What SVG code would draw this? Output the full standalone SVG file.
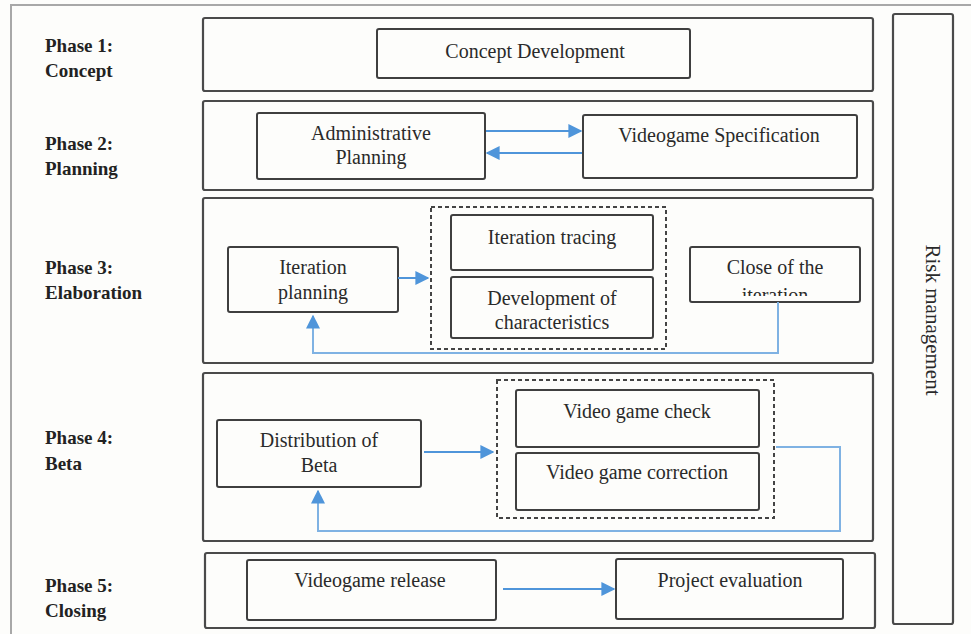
<svg xmlns="http://www.w3.org/2000/svg" width="971" height="634" viewBox="0 0 971 634">
<defs>
<style>
.bg{fill:#fdfdfb}
.frame{fill:none;stroke:#a8a8a8;stroke-width:2}
.phase{fill:#fdfdfb;stroke:#4a4a4a;stroke-width:2.2}
.box{fill:#fdfdfb;stroke:#3f3f3f;stroke-width:2}
.dash{fill:none;stroke:#444;stroke-width:2;stroke-dasharray:4 3}
.lbl{font-family:"Liberation Serif","Times New Roman",serif;font-weight:bold;font-size:19px;fill:#222}
.t{font-family:"Liberation Serif","Times New Roman",serif;font-size:20px;fill:#2a2a2a;text-anchor:middle}
.conn{fill:none;stroke:#4f95da;stroke-width:2}
.conn2{fill:none;stroke:#7fb2e3;stroke-width:2}
</style>
<marker id="ah" viewBox="0 0 10 10" refX="9" refY="5" markerWidth="7" markerHeight="7" markerUnits="strokeWidth" orient="auto">
<path d="M0,0 L10,5 L0,10 z" fill="#4f95da"/>
</marker>
<clipPath id="clipClose"><rect x="690" y="247" width="170" height="49"/></clipPath>
</defs>
<rect class="bg" x="0" y="0" width="971" height="634"/>
<path class="frame" d="M11,634 V5 H971"/>

<g id="phase-labels">
<text class="lbl" x="45" y="52">Phase 1:</text>
<text class="lbl" x="45" y="77">Concept</text>
<text class="lbl" x="45" y="150">Phase 2:</text>
<text class="lbl" x="45" y="175">Planning</text>
<text class="lbl" x="45" y="274">Phase 3:</text>
<text class="lbl" x="45" y="299">Elaboration</text>
<text class="lbl" x="45" y="444">Phase 4:</text>
<text class="lbl" x="45" y="470">Beta</text>
<text class="lbl" x="45" y="592">Phase 5:</text>
<text class="lbl" x="45" y="617">Closing</text>
</g>

<g id="phase1"><rect class="phase" x="203" y="18" width="670" height="73" rx="2"/></g>
<g id="phase2"><rect class="phase" x="203" y="101" width="670" height="89" rx="2"/></g>
<g id="phase3"><rect class="phase" x="203" y="198" width="670" height="165" rx="2"/></g>
<g id="phase4"><rect class="phase" x="203" y="373" width="670" height="168" rx="2"/></g>
<g id="phase5"><rect class="phase" x="205" y="553" width="670" height="75" rx="2"/></g>

<g id="risk-management">
<rect class="phase" x="893" y="14" width="60" height="610" rx="2"/>
<text class="t" transform="translate(926,320) rotate(90)" style="font-size:21px">Risk management</text>
</g>

<g id="concept-development">
<rect class="box" x="377" y="29" width="313" height="49" rx="2"/>
<text class="t" x="535" y="58">Concept Development</text>
</g>

<g id="administrative-planning">
<rect class="box" x="257" y="113" width="228" height="66" rx="2"/>
<text class="t" x="371" y="140">Administrative</text>
<text class="t" x="371" y="164">Planning</text>
</g>

<g id="videogame-specification">
<rect class="box" x="583" y="115" width="274" height="63" rx="2"/>
<text class="t" x="719" y="142">Videogame Specification</text>
</g>

<g id="iteration-planning">
<rect class="box" x="228" y="247" width="170" height="65" rx="2"/>
<text class="t" x="313" y="274">Iteration</text>
<text class="t" x="313" y="299">planning</text>
</g>

<g id="iteration-group">
<rect class="dash" x="431" y="207" width="235" height="142"/>
</g>

<g id="iteration-tracing">
<rect class="box" x="451" y="215" width="202" height="55" rx="2"/>
<text class="t" x="552" y="244">Iteration tracing</text>
</g>

<g id="development-of-characteristics">
<rect class="box" x="451" y="277" width="202" height="61" rx="2"/>
<text class="t" x="552" y="305">Development of</text>
<text class="t" x="552" y="329">characteristics</text>
</g>

<g id="close-of-the-iteration">
<rect class="box" x="690" y="247" width="170" height="55" rx="2"/>
<g clip-path="url(#clipClose)">
<text class="t" x="775" y="274">Close of the</text>
<text class="t" x="775" y="302">iteration</text>
</g>
</g>

<g id="distribution-of-beta">
<rect class="box" x="217" y="420" width="204" height="67" rx="2"/>
<text class="t" x="319" y="447">Distribution of</text>
<text class="t" x="319" y="472">Beta</text>
</g>

<g id="beta-group">
<rect class="dash" x="497" y="380" width="277" height="138"/>
</g>

<g id="video-game-check">
<rect class="box" x="516" y="390" width="243" height="57" rx="2"/>
<text class="t" x="637" y="418">Video game check</text>
</g>

<g id="video-game-correction">
<rect class="box" x="516" y="453" width="243" height="57" rx="2"/>
<text class="t" x="637" y="479">Video game correction</text>
</g>

<g id="videogame-release">
<rect class="box" x="247" y="560" width="249" height="60" rx="2"/>
<text class="t" x="370" y="587">Videogame release</text>
</g>

<g id="project-evaluation">
<rect class="box" x="616" y="559" width="227" height="60" rx="2"/>
<text class="t" x="730" y="587">Project evaluation</text>
</g>

<g id="connectors">
<path class="conn" d="M486,131 H581" marker-end="url(#ah)"/>
<path class="conn" d="M582,153 H487" marker-end="url(#ah)"/>
<path class="conn" d="M398,278 H428" marker-end="url(#ah)"/>
<path class="conn2" d="M778,302 V353 H313 V316" marker-end="url(#ah)"/>
<path class="conn" d="M424,452 H493" marker-end="url(#ah)"/>
<path class="conn2" d="M776,447 H840 V531 H318 V491" marker-end="url(#ah)"/>
<path class="conn" d="M503,589 H614" marker-end="url(#ah)"/>
</g>
</svg>
